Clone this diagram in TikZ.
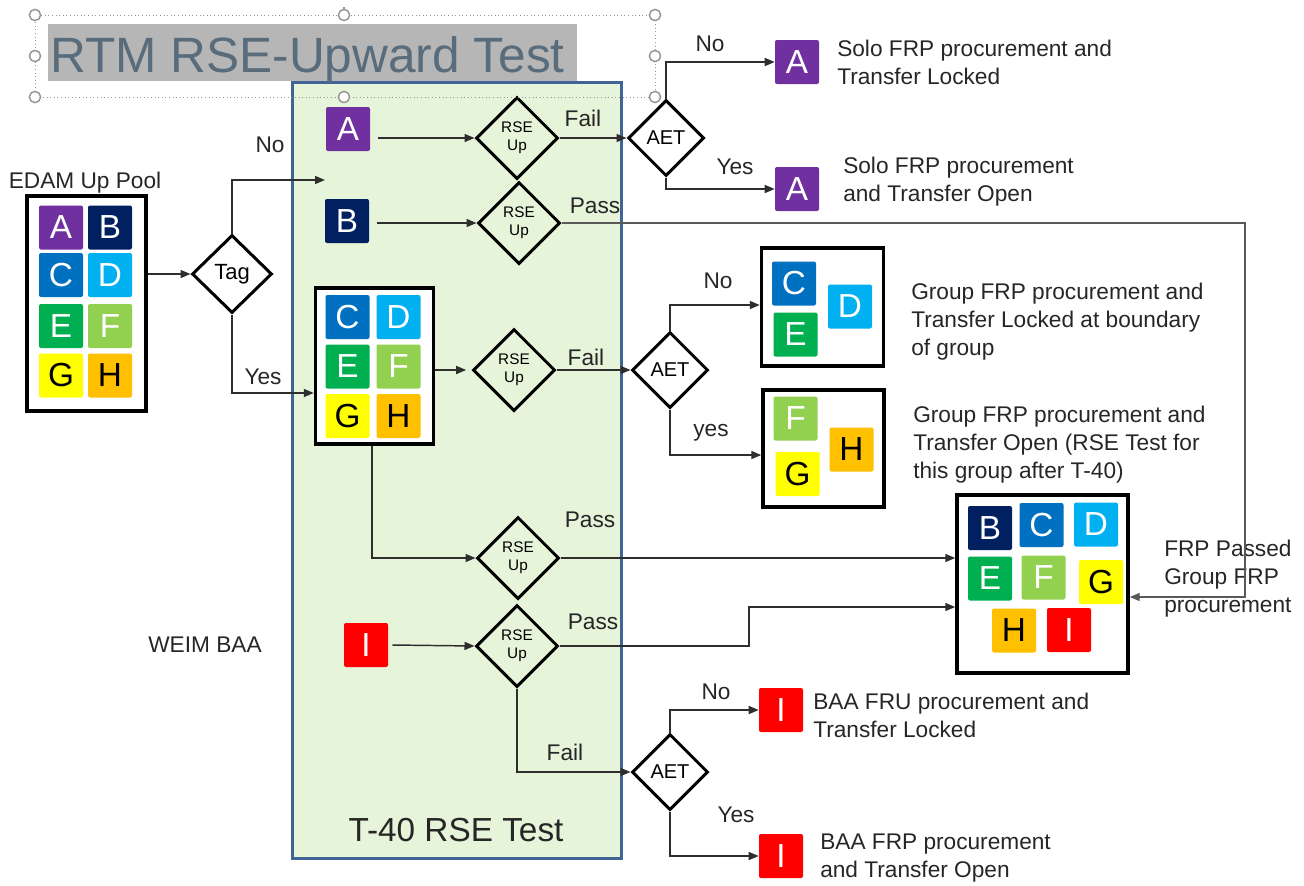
\documentclass[tikz,border=0pt]{standalone}
\usepackage{fontspec}
\setmainfont{Liberation Sans}
\usetikzlibrary{shapes.geometric,arrows.meta,calc}
\definecolor{cA}{HTML}{7030A0}
\definecolor{cB}{HTML}{002060}
\definecolor{cC}{HTML}{0070C0}
\definecolor{cD}{HTML}{00B0F0}
\definecolor{cE}{HTML}{00B050}
\definecolor{cF}{HTML}{92D050}
\definecolor{cG}{HTML}{FFFF00}
\definecolor{cH}{HTML}{FFC000}
\definecolor{cI}{HTML}{FF0000}
\definecolor{tgreen}{RGB}{230,244,218}
\definecolor{tblue}{RGB}{65,100,150}
\definecolor{titlegray}{RGB}{182,182,182}
\definecolor{titletext}{RGB}{88,108,124}
\definecolor{handlegray}{RGB}{150,150,150}
\tikzset{
  sq/.style={minimum width=33pt, minimum height=33pt, inner sep=0pt, rounded corners=1.5pt,
    font=\fontsize{25}{25}\selectfont, text=white},
  sqA/.style={sq, fill=cA}, sqB/.style={sq, fill=cB}, sqC/.style={sq, fill=cC},
  sqD/.style={sq, fill=cD}, sqE/.style={sq, fill=cE}, sqF/.style={sq, fill=cF},
  sqG/.style={sq, fill=cG, text=black}, sqH/.style={sq, fill=cH, text=black},
  sqI/.style={sq, fill=cI},
  dia/.style={diamond, draw=black, fill=none, line width=2.25pt, minimum width=61.5pt, minimum height=61.5pt,
    inner sep=0pt, aspect=1, align=center},
  rse/.style={dia, font=\fontsize{11.5}{13.5}\selectfont},
  aet/.style={dia, minimum width=57pt, minimum height=57pt, font=\fontsize{15}{15}\selectfont},
  grpbox/.style={draw=black, line width=2.6pt, fill=white, inner sep=0pt},
  conn/.style={draw=black!82, line width=1.1pt, -{Triangle[length=7.5pt,width=6pt]}},
  lbl/.style={font=\fontsize{17}{21}\selectfont, text=black!85, inner sep=0pt},
  txt/.style={lbl, align=left, anchor=west},
  handle/.style={draw=handlegray, fill=white, line width=1.1pt},
}
\begin{document}
\begin{tikzpicture}[x=0.75pt,y=-0.75pt]
\useasboundingbox (0,0) rectangle (1304,886);

% T-40 frame
\node[draw=tblue, fill=tgreen, line width=2.25pt, minimum width=246.75pt, minimum height=582pt, inner sep=0pt] (t40) at (456.5,470) {};
\node[font=\fontsize{25}{25}\selectfont, text=black!85] (t40lbl) at (456,830) {T-40 RSE Test};

% title
\node[fill=titlegray, minimum width=396.75pt, minimum height=42.75pt, inner sep=0pt] (titlebg) at (312.5,52) {};
\node[anchor=base west, font=\fontsize{37.2}{40}\selectfont, text=titletext, inner sep=0pt] (title) at (50,72) {RTM RSE-Upward Test};

% pool
\node[grpbox, minimum width=89.25pt, minimum height=161.25pt] (pool) at (86.5,303.5) {};
\node[lbl] (poollbl) at (85,183) {EDAM Up Pool};
\node[sqA] (pA) at (61,227.5) {A};
\node[sqB] (pB) at (110,227.5) {B};
\node[sqC] (pC) at (61,275) {C};
\node[sqD] (pD) at (110,275) {D};
\node[sqE] (pE) at (61,326) {E};
\node[sqF] (pF) at (110,326) {F};
\node[sqG] (pG) at (61,375.5) {G};
\node[sqH] (pH) at (110,375.5) {H};

\node[dia, minimum width=60pt, minimum height=58.5pt, font=\fontsize{16.5}{16.5}\selectfont] (tag) at (232,274) {Tag};
\coordinate (noend) at (325,180);

% A row
\node[sqA] (A1) at (348,129) {A};
\node[rse] (rse1) at (517,138) {RSE\\Up};
\node[aet] (aet1) at (666,138) {AET};
\node[sqA] (aLock) at (797,62) {A};
\node[sqA] (aOpen) at (797,189) {A};
\node[txt] (aLockT) at (837,62) {Solo FRP procurement and\\Transfer Locked};
\node[txt] (aOpenT) at (843,182) {Solo FRP procurement\\and Transfer Open};

% B row
\node[sqB] (B1) at (347,221) {B};
\node[rse] (rse2) at (519,223) {RSE\\Up};

% group
\node[grpbox, minimum width=88.5pt, minimum height=117pt] (grp) at (374.5,366) {};
\node[sqC] (gC) at (347.5,317) {C};
\node[sqD] (gD) at (398.5,317) {D};
\node[sqE] (gE) at (347.5,366.5) {E};
\node[sqF] (gF) at (398.5,366.5) {F};
\node[sqG] (gG) at (347.5,416) {G};
\node[sqH] (gH) at (398.5,416) {H};
\node[rse] (rse3) at (514,370) {RSE\\Up};
\node[aet] (aet2) at (670,370) {AET};

\node[grpbox, minimum width=91.5pt, minimum height=88.5pt] (cde) at (822.5,307) {};
\node[sqC] (cC) at (794,283.5) {C};
\node[sqE] (cE) at (795.5,334.5) {E};
\node[sqD] (cD) at (850,306.5) {D};
\node[txt] (cdeT) at (911,322) {Group FRP procurement and\\Transfer Locked at boundary\\of group};

\node[grpbox, minimum width=90.75pt, minimum height=87.75pt] (fgh) at (823.5,448.5) {};
\node[sqF] (fF) at (795.5,418.5) {F};
\node[sqG] (fG) at (797.5,474) {G};
\node[sqH] (fH) at (851.5,449.5) {H};
\node[txt] (fghT) at (913,445) {Group FRP procurement and\\Transfer Open (RSE Test for\\this group after T-40)};

% final
\node[grpbox, minimum width=128.25pt, minimum height=133.5pt] (final) at (1042.5,584) {};
\node[sqB] (xB) at (990,528) {B};
\node[sqC] (xC) at (1041.5,525) {C};
\node[sqD] (xD) at (1096,524.5) {D};
\node[sqE] (xE) at (990,578.5) {E};
\node[sqF] (xF) at (1043.5,577.5) {F};
\node[sqG] (xG) at (1101,582) {G};
\node[sqH] (xH) at (1014,630.5) {H};
\node[sqI] (xI) at (1069,630) {I};
\node[txt] (finalT) at (1164,579) {FRP Passed\\Group FRP\\procurement};

% pass diamond from group
\node[rse] (rse4) at (518,558) {RSE\\Up};

% I row
\node[lbl] (weim) at (205,645) {WEIM BAA};
\node[sqI] (I1) at (366,645) {I};
\node[rse] (rse5) at (517,646) {RSE\\Up};
\node[aet] (aet3) at (670,772) {AET};
\node[sqI] (iLock) at (781,710) {I};
\node[sqI] (iOpen) at (781,856) {I};
\node[txt] (iLockT) at (813,715) {BAA FRU procurement and\\Transfer Locked};
\node[txt] (iOpenT) at (820,858) {BAA FRP procurement\\and Transfer Open};

\coordinate (rbend) at (1245,0);
\coordinate (stepx) at (749,0);

% connectors
\draw[conn] (pool.east |- tag.west) -- (tag.west);
\draw[conn] (tag.north) |- (noend);
\draw[conn] (tag.south) |- ([yshift=-20.25pt]grp.west);
\draw[conn] ([xshift=6pt]A1.east |- rse1.west) -- (rse1.west);
\draw[conn] (rse1.east) -- (aet1.west);
\draw[conn] (aet1.north) |- (aLock.west);
\draw[conn] (aet1.south) |- (aOpen.west);
\draw[conn] ([xshift=6pt]B1.east |- rse2.west) -- (rse2.west);
\draw[conn, draw=black!65] (rse2.east) -- (rse2.east -| rbend) |- ([yshift=-9.75pt]final.east);
\draw[conn] (grp.east |- rse3.west) -- ([xshift=-4pt]rse3.west);
\draw[conn] (rse3.east) -- (aet2.west);
\draw[conn] (aet2.north) |- ([yshift=1.5pt]cde.west);
\draw[conn] (aet2.south) |- ([yshift=-4.9pt]fgh.west);
\draw[conn] ([xshift=-2pt]grp.south) |- (rse4.west);
\draw[conn] (rse4.east) -- (final.west |- rse4.east);
\draw[conn] ([xshift=3pt]I1.east) -- (rse5.west);
\draw[conn] (rse5.east) -- (rse5.east -| stepx) |- ([yshift=-17.25pt]final.west);
\draw[conn] (rse5.south) |- (aet3.west);
\draw[conn] (aet3.north) |- (iLock.west);
\draw[conn] (aet3.south) |- (iOpen.west);

% connector labels
\node[lbl] (l1) at (270,145) {No};
\node[lbl] (l2) at (263,377) {Yes};
\node[lbl] (l3) at (583,118) {Fail};
\node[lbl] (l4) at (710,44) {No};
\node[lbl] (l5) at (735,167) {Yes};
\node[lbl] (l6) at (595,206) {Pass};
\node[lbl] (l7) at (586,357) {Fail};
\node[lbl] (l8) at (718,281) {No};
\node[lbl] (l9) at (711,433) {yes};
\node[lbl] (l10) at (590,520) {Pass};
\node[lbl] (l11) at (593,622) {Pass};
\node[lbl] (l12) at (565,752) {Fail};
\node[lbl] (l13) at (716,692) {No};
\node[lbl] (l14) at (736,815) {Yes};

% selection frame of the title
\draw[handlegray, dotted, line width=0.7pt] (35,15) rectangle (655,97);
\draw[handlegray, line width=0.8pt] (344,15) -- (344,7);
\foreach \p in {(35,15),(344,15),(655,15),(35,56),(655,56),(35,97),(344,97),(655,97)}
  \draw[handle] \p circle[radius=4.2pt];
\end{tikzpicture}
\end{document}
